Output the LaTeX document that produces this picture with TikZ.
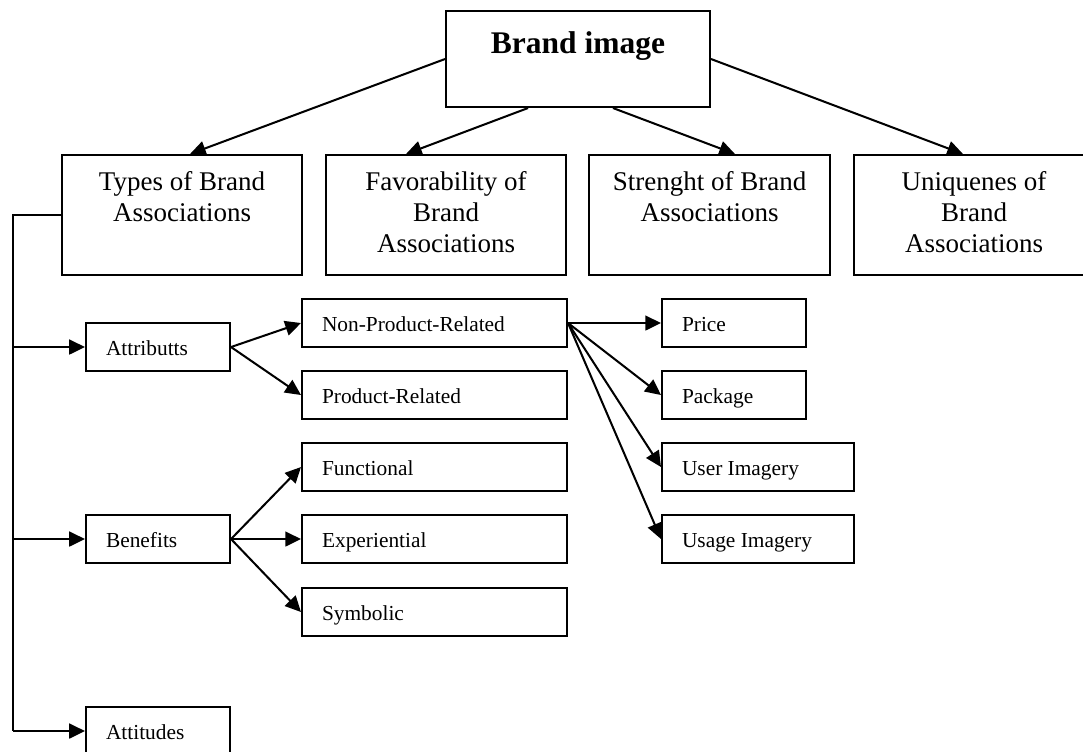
\documentclass[tikz,border=0pt]{standalone}
\usepackage{fontspec}
\setmainfont{Liberation Serif}
\usetikzlibrary{arrows.meta,calc}
\newlength\pxu
\setlength\pxu{0.4444pt}
% box with top-aligned, centred lines (upper rows)
\newcommand\topbox[3]{\parbox[t][#1][t]{#2}{\centering #3}}
% box with one left-inset line (lower rows)
\newcommand\rowbox[2]{\parbox[t][48\pxu][t]{#1}{\hspace*{20\pxu}\rule{0pt}{32\pxu}#2}}
\tikzset{
  box/.style={draw, line width=0.9pt, inner sep=0pt, anchor=north west},
  big/.style={box, font=\fontsize{12}{13.8}\selectfont},
  small/.style={box, font=\fontsize{9.5}{11.5}\selectfont},
  arr/.style={line width=0.9pt, -{Triangle[length=7pt, width=6.6pt]}},
  ln/.style={line width=0.9pt},
}
\begin{document}
\begin{tikzpicture}[x=\pxu, y=-\pxu]
\useasboundingbox (0,0) rectangle (1083,751);
\clip (0,0) rectangle (1083,751);

% root
\node[box] (brand) at (445,10)
  {\parbox[t][96\pxu][t]{264\pxu}{\centering\fontsize{14}{16}\selectfont\bfseries\rule{0pt}{42\pxu}Brand image}};

% dimensions of the brand image
\node[big] (t1) at (61,154)  {\topbox{120\pxu}{240\pxu}{\rule{0pt}{35\pxu}Types of Brand\\Associations}};
\node[big] (t2) at (325,154) {\topbox{120\pxu}{240\pxu}{\rule{0pt}{35\pxu}Favorability of\\Brand\\Associations}};
\node[big] (t3) at (588,154) {\topbox{120\pxu}{241\pxu}{\rule{0pt}{35\pxu}Strenght of Brand\\Associations}};
\node[big] (t4) at (853,154) {\topbox{120\pxu}{240\pxu}{\rule{0pt}{35\pxu}Uniquenes of\\Brand\\Associations}};

% types of associations
\node[small] (attr) at (85,322) {\rowbox{144\pxu}{Attributts}};
\node[small] (ben)  at (85,514) {\rowbox{144\pxu}{Benefits}};
\node[small] (att)  at (85,706) {\rowbox{144\pxu}{Attitudes}};

% attribute kinds
\node[small] (npr) at (301,298) {\rowbox{265\pxu}{Non-Product-Related}};
\node[small] (pr)  at (301,370) {\rowbox{265\pxu}{Product-Related}};

% benefit kinds
\node[small] (func) at (301,442) {\rowbox{265\pxu}{Functional}};
\node[small] (exp)  at (301,514) {\rowbox{265\pxu}{Experiential}};
\node[small] (sym)  at (301,587) {\rowbox{265\pxu}{Symbolic}};

% non-product-related attributes
\node[small] (price) at (661,298) {\rowbox{144\pxu}{Price}};
\node[small] (pack)  at (661,370) {\rowbox{144\pxu}{Package}};
\node[small] (user)  at (661,442) {\rowbox{192\pxu}{User Imagery}};
\node[small] (usage) at (661,514) {\rowbox{192\pxu}{Usage Imagery}};

% root to dimensions
\draw[arr] (brand.west) -- ($(t1.north west)+(129,0)$);
\draw[arr] ($(brand.south west)+(83,0)$) -- ($(t2.north west)+(81,0)$);
\draw[arr] ($(brand.south west)+(168,0)$) -- ($(t3.north west)+(147,0)$);
\draw[arr] (brand.east) -- ($(t4.north west)+(110,0)$);

% spine on the left
\coordinate (spine) at (13,0);
\draw[ln] (t1.west) -- (t1.west -| spine) -- (spine |- att.west);
\draw[arr] (spine |- attr.west) -- (attr.west);
\draw[arr] (spine |- ben.west) -- (ben.west);
\draw[arr] (spine |- att.west) -- (att.west);

% fan-outs
\draw[arr] (attr.east) -- (npr.west);
\draw[arr] (attr.east) -- (pr.west);
\draw[arr] (ben.east) -- (func.west);
\draw[arr] (ben.east) -- (exp.west);
\draw[arr] (ben.east) -- (sym.west);
\draw[arr] (npr.east) -- (price.west);
\draw[arr] (npr.east) -- (pack.west);
\draw[arr] (npr.east) -- (user.west);
\draw[arr] (npr.east) -- (usage.west);
\end{tikzpicture}
\end{document}
